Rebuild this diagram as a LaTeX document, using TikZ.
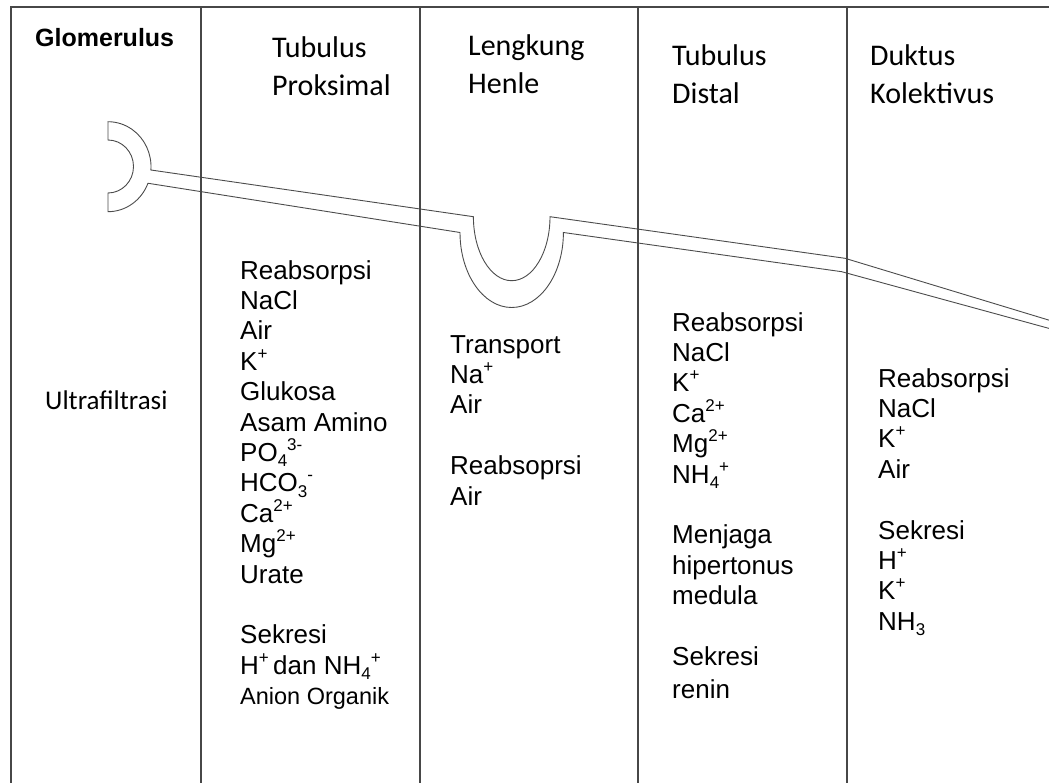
\documentclass[tikz,border=0pt]{standalone}
\usepackage{fontspec}
\setmainfont{Liberation Sans}
\newfontfamily\calfont{Carlito}
\newcommand\supx[1]{\raisebox{0.42em}{\fontsize{17}{17}\selectfont #1}}
\newcommand\subx[1]{\raisebox{-0.2em}{\fontsize{17}{17}\selectfont #1}}
\begin{document}
\begin{tikzpicture}[x=1pt,y=-1pt,
  frameline/.style={draw=black!72, line width=1.3pt},
  tubeline/.style={draw=black!70, line width=0.9pt, line join=miter},
  head/.style={font=\calfont\fontsize{30}{38}\selectfont, align=left, anchor=north west, inner sep=0pt},
  listtxt/.style={font=\fontsize{26}{30.4}\selectfont, align=left, anchor=north west, inner sep=0pt}]
\useasboundingbox (0,0) rectangle (1049,783);
% tube (glomerulus cup, tubule, loop)
\fill[white] (1060,323.5) -- (845,258.3) -- (550,216.7)
  arc[start angle=0,end angle=180,x radius=38.3,y radius=64]
  -- (150.9,170)
  arc[start angle=4.2,end angle=-90,x radius=43,y radius=45]
  -- (108,140)
  arc[start angle=-90,end angle=90,x radius=25.5,y radius=26.5]
  -- (108,211.7)
  arc[start angle=90,end angle=21.6,x radius=43,y radius=45]
  -- (460,232.5)
  arc[start angle=180,end angle=0,x radius=51.7,y radius=75]
  -- (841.7,271.7) -- (1060,331.4) -- cycle;
\draw[tubeline] (1060,323.5) -- (845,258.3) -- (550,216.7)
  arc[start angle=0,end angle=180,x radius=38.3,y radius=64]
  -- (150.9,170)
  arc[start angle=4.2,end angle=-90,x radius=43,y radius=45]
  -- (108,140)
  arc[start angle=-90,end angle=90,x radius=25.5,y radius=26.5]
  -- (108,211.7)
  arc[start angle=90,end angle=21.6,x radius=43,y radius=45]
  -- (460,232.5)
  arc[start angle=180,end angle=0,x radius=51.7,y radius=75]
  -- (841.7,271.7) -- (1060,331.4);
% frame and column dividers
\coordinate (tl) at (11,7);
\coordinate (tr) at (1049,7);
\coordinate (bl) at (11,783);
\draw[frameline] (bl) -- (tl) -- (tr);
\foreach \x/\n in {201/a,420/b,638/c,847/d}{
  \coordinate (top\n) at (\x,7);
  \coordinate (bot\n) at (\x,783);
  \draw[frameline] (top\n) -- (bot\n);
}
% headings
\node[font=\bfseries\fontsize{25}{30}\selectfont, anchor=west, inner sep=0pt] (glom) at (35,38) {Glomerulus};
\node[head] (hprox) at (272,36) {Tubulus\\Proksimal};
\node[head] (hhenle) at (468,34) {Lengkung\\Henle};
\node[head] (hdist) at (672,44) {Tubulus\\Distal};
\node[head] (hduct) at (870,44) {Duktus\\Kolektivus};
% column texts
\node[font=\calfont\fontsize{27}{32}\selectfont, anchor=west, inner sep=0pt] (ultra) at (45,400) {Ultrafiltrasi};
\node[listtxt] (lprox) at (240,260) {Reabsorpsi\\NaCl\\Air\\K\supx{+}\\Glukosa\\Asam Amino\\PO\subx{4}\supx{3-}\\HCO\subx{3}\supx{-}\\Ca\supx{2+}\\Mg\supx{2+}\\Urate\\[30.4pt]Sekresi\\H\supx{+}\,dan NH\subx{4}\supx{+}\\{\fontsize{23.5}{27}\selectfont Anion Organik}};
\node[listtxt] (lhenle) at (450,335) {Transport\\Na\supx{+}\\Air\\[30.4pt]Reabsoprsi\\Air};
\node[listtxt] (ldist) at (672,312) {Reabsorpsi\\NaCl\\K\supx{+}\\Ca\supx{2+}\\Mg\supx{2+}\\NH\subx{4}\supx{+}\\[30.4pt]Menjaga\\hipertonus\\medula\\[30.4pt]Sekresi\\[3pt]renin};
\node[listtxt] (lduct) at (878,368) {Reabsorpsi\\NaCl\\K\supx{+}\\Air\\[30.4pt]Sekresi\\H\supx{+}\\K\supx{+}\\NH\subx{3}};
\end{tikzpicture}
\end{document}
